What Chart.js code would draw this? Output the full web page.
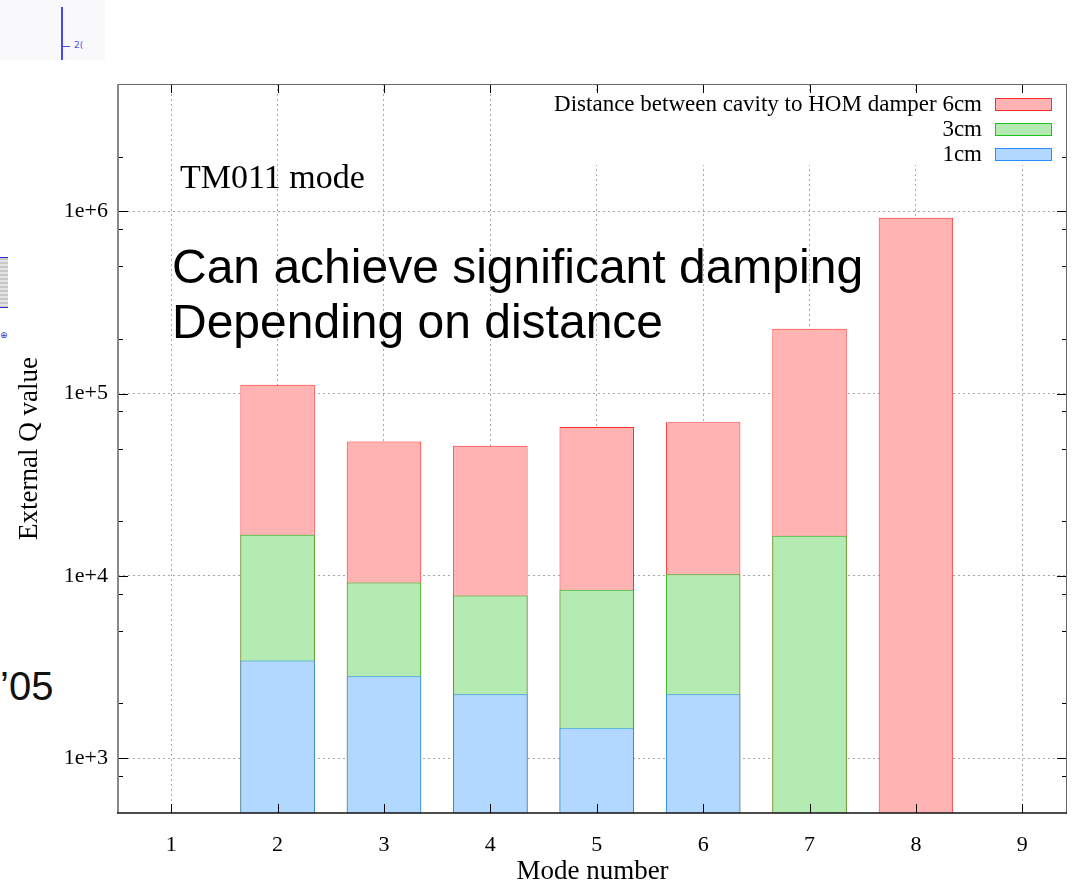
<!DOCTYPE html>
<html>
<head>
<meta charset="utf-8">
<title>External Q value by mode number</title>
<script src="https://cdn.jsdelivr.net/npm/chart.js@4.4.1/dist/chart.umd.min.js"></script>
<style>
  html, body { margin: 0; padding: 0; background: #fff; overflow: hidden; }
  #wrap { position: relative; width: 1076px; height: 885px; }
  #qChart { position: absolute; left: 0; top: 0; }
  .thumb { position: absolute; }
  #thumbTop { left: 0; top: 0; width: 105px; height: 60px; background: #f9f9fc; }
  #thumbAxis { left: 61px; top: 7px; width: 2px; height: 53px; background: #4a4ae8; }
  #thumbTick { left: 63px; top: 46px; width: 7px; height: 1px; background: #4a4ae8; }
  #thumbLabel { left: 74px; top: 40px; font: 9px "DejaVu Sans", sans-serif; color: #4a4ae8; }
  #thumbStrip { left: 0; top: 257px; width: 8px; height: 49px; border-top: 1px solid #3030d0; border-bottom: 1px solid #3030d0;
    background: repeating-linear-gradient(#c8c8c8 0 2px, #e4e4e4 2px 4px); }
  #thumbMark { left: 0; top: 330px; font: 9px "DejaVu Sans", sans-serif; color: #3030d0; }
  #yearNote { position: absolute; left: 0; top: 664px; font: 40px "Liberation Sans", Arial, sans-serif; color: #111; }
</style>
</head>
<body>
<div id="wrap">
  <div class="thumb" id="thumbTop"></div>
  <div class="thumb" id="thumbAxis"></div>
  <div class="thumb" id="thumbTick"></div>
  <div class="thumb" id="thumbLabel">2(</div>
  <div class="thumb" id="thumbStrip"></div>
  <div class="thumb" id="thumbMark">⊕</div>
  <div id="yearNote">’05</div>
  <canvas id="qChart" width="1076" height="885"></canvas>
</div>
<script>
// External Q of the TM011-like modes for three cavity-to-damper distances
const modes = [1, 2, 3, 4, 5, 6, 7, 8, 9];
const q6cm = [null, 112000, 54700, 51800, 65700, 69600, 227000, 922000, null];
const q3cm = [null, 16800, 9200, 7800, 8400, 10200, 16600, null, null];
const q1cm = [null, 3430, 2810, 2240, 1460, 2240, null, null, null];
const seriesLabels = ['Distance between cavity to HOM damper 6cm', '3cm', '1cm'];
const yMajorTicks = [1e3, 1e4, 1e5, 1e6];
const yMinorSteps = [2, 5, 8];

const serif = '"Liberation Serif", "Times New Roman", serif';
const sans = '"Liberation Sans", Arial, sans-serif';

const fills = ['#ffb3b3', '#b3ebb3', '#b3d8ff'];
const edges = ['#ff2a2a', '#1fbf1f', '#2b8cff'];

function points(values) {
  return modes.map((m, i) => ({ x: m, y: values[i] })).filter(p => p.y !== null);
}

// inward gnuplot style ticks, frame, key box and the text notes
const gnuplotFrame = {
  id: 'gnuplotFrame',
  afterDraw(chart) {
    const { ctx, chartArea, scales } = chart;
    const { left, right, top, bottom } = chartArea;
    ctx.save();

    // key, opaque over the grid
    ctx.fillStyle = '#fff';
    ctx.fillRect(550, 92, right - 553, 73);
    ctx.font = '23px ' + serif;
    ctx.textAlign = 'right';
    ctx.textBaseline = 'alphabetic';
    seriesLabels.forEach((label, i) => {
      const rowTop = 98 + i * 25;
      ctx.fillStyle = '#000';
      ctx.fillText(label, 982, rowTop + 13);
      ctx.fillStyle = fills[i];
      ctx.fillRect(995, rowTop, 56, 12);
      ctx.strokeStyle = edges[i];
      ctx.lineWidth = 1;
      ctx.strokeRect(995.5, rowTop + 0.5, 56, 12);
    });

    // notes inside the plot
    ctx.textAlign = 'left';
    ctx.fillStyle = '#000';
    ctx.font = '34px ' + serif;
    ctx.fillText('TM011 mode', 180, 188);
    ctx.font = '48px ' + sans;
    ctx.fillText('Can achieve significant damping', 172, 283);
    ctx.fillText('Depending on distance', 172, 338);

    // tick marks pointing into the plot
    ctx.strokeStyle = '#000';
    ctx.lineWidth = 1;
    ctx.beginPath();
    modes.forEach(m => {
      const px = Math.round(scales.x.getPixelForValue(m)) + 0.5;
      ctx.moveTo(px, bottom); ctx.lineTo(px, bottom - 9);
      ctx.moveTo(px, top); ctx.lineTo(px, top + 9);
    });
    yMajorTicks.forEach(v => {
      const py = Math.round(scales.y.getPixelForValue(v)) + 0.5;
      ctx.moveTo(left, py); ctx.lineTo(left + 10, py);
      ctx.moveTo(right, py); ctx.lineTo(right - 10, py);
    });
    for (let e = 2; e <= 6; e++) {
      yMinorSteps.forEach(s => {
        const v = s * Math.pow(10, e);
        if (v <= scales.y.min || v >= scales.y.max) return;
        const py = Math.round(scales.y.getPixelForValue(v)) + 0.5;
        ctx.moveTo(left, py); ctx.lineTo(left + 5, py);
        ctx.moveTo(right, py); ctx.lineTo(right - 5, py);
      });
    }
    ctx.stroke();

    // plot border
    ctx.lineWidth = 1;
    ctx.strokeStyle = '#666';
    ctx.beginPath();
    ctx.moveTo(left, top + 0.5); ctx.lineTo(right, top + 0.5);
    ctx.moveTo(right - 0.5, top); ctx.lineTo(right - 0.5, bottom);
    ctx.stroke();
    ctx.strokeStyle = '#888';
    ctx.lineWidth = 2;
    ctx.beginPath();
    ctx.moveTo(left, top); ctx.lineTo(left, bottom);
    ctx.stroke();
    ctx.strokeStyle = '#111';
    ctx.lineWidth = 1.5;
    ctx.beginPath();
    ctx.moveTo(left - 1, bottom); ctx.lineTo(right, bottom);
    ctx.stroke();
    ctx.restore();
  }
};

const gridDots = { color: '#a8a8a8', lineWidth: 1, drawTicks: false, offset: false };

new Chart(document.getElementById('qChart'), {
  type: 'bar',
  data: {
    datasets: [
      { label: seriesLabels[0], data: points(q6cm), backgroundColor: fills[0], borderColor: edges[0], order: 3 },
      { label: seriesLabels[1], data: points(q3cm), backgroundColor: fills[1], borderColor: edges[1], order: 2 },
      { label: seriesLabels[2], data: points(q1cm), backgroundColor: fills[2], borderColor: edges[2], order: 1 }
    ]
  },
  options: {
    responsive: false,
    animation: false,
    events: [],
    layout: { padding: { top: 84, right: 9, left: 0, bottom: 0 } },
    datasets: {
      bar: { grouped: false, barPercentage: 0.7, categoryPercentage: 1.0, borderWidth: 1 }
    },
    plugins: { legend: { display: false }, tooltip: { enabled: false } },
    scales: {
      x: {
        type: 'linear',
        offset: false,
        min: 0.5,
        max: 9.42,
        afterBuildTicks: s => { s.ticks = modes.map(v => ({ value: v })); },
        afterFit: s => { s.height = 72; },
        grid: gridDots,
        border: { display: false, dash: [2, 3] },
        ticks: { color: '#000', padding: 19, font: { family: serif, size: 22 }, callback: v => String(v) },
        title: {
          display: true, text: 'Mode number', color: '#000',
          font: { family: serif, size: 27, lineHeight: 1 }, padding: { top: 0, bottom: 0 }
        }
      },
      y: {
        type: 'logarithmic',
        min: 500,
        max: 5e6,
        afterBuildTicks: s => { s.ticks = yMajorTicks.map(v => ({ value: v })); },
        afterFit: s => { s.width = 118; },
        grid: gridDots,
        border: { display: false, dash: [2, 3] },
        ticks: {
          color: '#000', padding: 10, font: { family: serif, size: 22 },
          callback: v => '1e+' + Math.round(Math.log10(v))
        },
        title: {
          display: true, text: 'External Q value', color: '#000',
          font: { family: serif, size: 27, lineHeight: 1 }, padding: { top: 16, bottom: 0 }
        }
      }
    }
  },
  plugins: [gnuplotFrame]
});
</script>
</body>
</html>
